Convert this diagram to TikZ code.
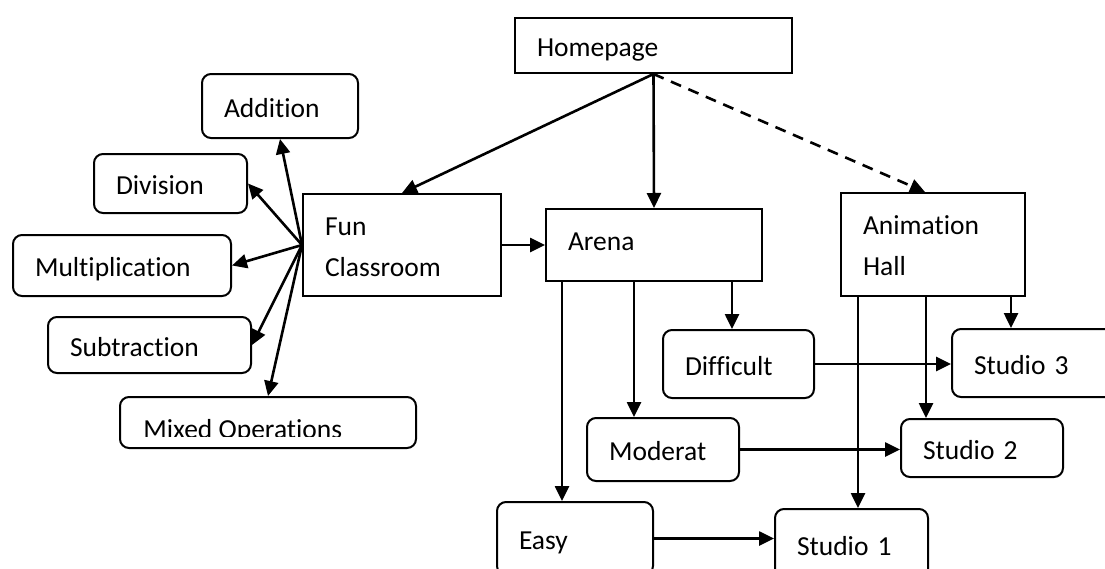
\documentclass[tikz,border=0pt]{standalone}
\usepackage{fontspec}
\setmainfont{Carlito}[Ligatures=NoCommon]
\usetikzlibrary{arrows.meta}

\begin{document}
\begin{tikzpicture}[x=1pt,y=-1pt,->,>={Triangle[length=15pt,width=14pt]},line width=2.6pt,
                    font=\fontsize{27.5pt}{41pt}\selectfont]
\tikzset{page/.style={draw,line width=2pt,inner xsep=22pt,inner ysep=0pt,align=left,
                      text height=27.5pt,text depth=5.5pt}}
\tikzset{item/.style={page,rounded corners=9pt}}

\useasboundingbox (0,0) rectangle (1105,568);

        \node[page, text width=233pt, minimum height=55pt]                     (home)  at (653.5,45.5)  {Homepage};
        \node[page, text width=154pt, minimum height=102pt, text depth=47.5pt] (fun)   at (402,245)     {Fun\\Classroom};
        \node[page, text width=172pt, minimum height=72pt, text depth=17.5pt]  (arena) at (654,245)     {Arena};
        \node[page, text width=140pt, minimum height=103pt, text depth=47.5pt] (anim)  at (933,244.5)   {Animation\\Hall};

        \node[item, text width=112pt, minimum height=64pt]  (add)  at (280,106)     {Addition};
        \node[item, text width=109pt, minimum height=59pt]  (div)  at (170.5,183.5) {Division};
        \node[item, text width=174pt, minimum height=61pt]  (mul)  at (122,265.5)   {Multiplication};
        \node[item, text width=159pt, minimum height=56pt]  (sub)  at (149.5,345)   {Subtraction};
        \node[item, minimum width=296pt, minimum height=51pt] (mix) at (268,422.5)  {};

        \node[item, text width=107pt, minimum height=68pt]  (diff) at (738.5,364)   {Difficult};
        \node[item, text width=108pt, minimum height=63pt]  (mod)  at (663,449.5)   {Moderat};
        \node[item, text width=112pt, minimum height=73pt]  (easy) at (575,538.5)   {Easy};

        \node[item, text width=119pt, minimum height=68pt]  (s3)   at (1033.5,363)  {Studio 3};
        \node[item, text width=118pt, minimum height=58pt]  (s2)   at (982,448)     {Studio 2};
        \node[item, text width=109pt, minimum height=71pt]  (s1)   at (851.5,544.5) {Studio 1};

        \begin{scope}
        \clip (mix.north west) rectangle ([yshift=13pt]mix.south east);
        \node[anchor=base west, inner sep=0pt] (mixtext) at ([xshift=23pt,yshift=-15.5pt]mix.west) {Mixed Operations};
        \end{scope}

        \coordinate (a1) at ([xshift=17pt]arena.south west);
        \coordinate (a2) at ([xshift=89pt]arena.south west);
        \coordinate (a3) at ([xshift=187pt]arena.south west);
        \coordinate (h1) at ([xshift=18pt]anim.south west);
        \coordinate (h2) at ([xshift=86pt]anim.south west);
        \coordinate (h3) at ([xshift=171pt]anim.south west);

        \path[->]
        (home.south) edge (fun.north)
        (home.south) edge (arena.north)
        (home.south) edge[dash pattern=on 11pt off 8pt] ([xshift=-8pt]anim.north)
        (fun.west)   edge (add.south)
        (fun.west)   edge (div.east)
        (fun.west)   edge (mul.east)
        (fun.west)   edge (sub.east)
        (fun.west)   edge (mix.north)
        (fun.east)   edge (arena.west)
        (a1) edge (a1 |- easy.north)
        (a2) edge (a2 |- mod.north)
        (a3) edge (a3 |- diff.north)
        (h1) edge (h1 |- s1.north)
        (h2) edge (h2 |- s2.north)
        (h3) edge (h3 |- s3.north)
        (diff.east) edge (diff.east -| s3.west)
        (mod.east)  edge (mod.east -| s2.west)
        (easy.east) edge (easy.east -| s1.west)
        ; %end path

\end{tikzpicture}
\end{document}
